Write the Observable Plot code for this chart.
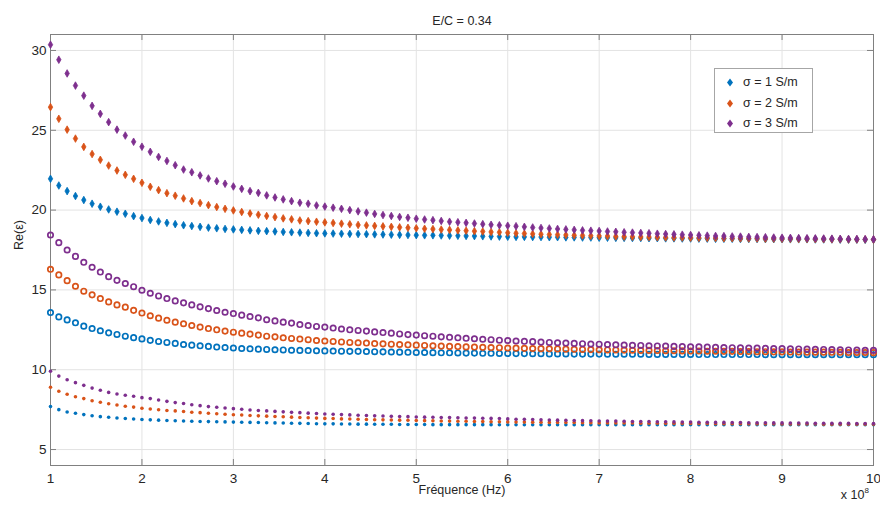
<!DOCTYPE html>
<html>
<head>
<meta charset="utf-8">
<script src="https://cdn.jsdelivr.net/npm/d3@7"></script>
<script src="https://cdn.jsdelivr.net/npm/@observablehq/plot@0.6"></script>
<style>
  body { margin: 0; background: white; }
  #wrap { position: relative; width: 880px; height: 508px; font-family: "Liberation Sans", Arial, sans-serif; }
  #legend { position: absolute; left: 714px; top: 68px; width: 97px; height: 63px; border: 1px solid #a6a6a6; background: white; }
  .row { position: absolute; left: 0; height: 16px; font-size: 12.5px; color: #262626; line-height: 16px; }
  .row svg { position: absolute; left: 11px; top: 4px; }
  .row span { position: absolute; left: 28px; white-space: nowrap; }
</style>
</head>
<body>
<div id="wrap"></div>
<script>
// Frequency grid (units of 10^8 Hz)
const freq = [
1.000,1.091,1.182,1.273,1.364,1.455,1.545,1.636,1.727,1.818,1.909,
2.000,2.091,2.182,2.273,2.364,2.455,2.545,2.636,2.727,2.818,2.909,
3.000,3.091,3.182,3.273,3.364,3.455,3.545,3.636,3.727,3.818,3.909,
4.000,4.091,4.182,4.273,4.364,4.455,4.545,4.636,4.727,4.818,4.909,
5.000,5.091,5.182,5.273,5.364,5.455,5.545,5.636,5.727,5.818,5.909,
6.000,6.091,6.182,6.273,6.364,6.455,6.545,6.636,6.727,6.818,6.909,
7.000,7.091,7.182,7.273,7.364,7.455,7.545,7.636,7.727,7.818,7.909,
8.000,8.091,8.182,8.273,8.364,8.455,8.545,8.636,8.727,8.818,8.909,
9.000,9.091,9.182,9.273,9.364,9.455,9.545,9.636,9.727,9.818,9.909,
10.000];

const sigmaLabels = ["σ = 1 S/m", "σ = 2 S/m", "σ = 3 S/m"];
const sigmaColors = ["#0072BD", "#D95319", "#7E2F8E"];
const xTicks = [1,2,3,4,5,6,7,8,9,10];
const yTicks = [5,10,15,20,25,30];

// Upper group (filled diamonds)
const topS1 = [21.96,21.54,21.19,20.88,20.63,20.40,20.21,20.04,19.90,19.77,
19.62,19.50,19.38,19.29,19.20,19.12,19.05,19.00,18.95,18.90,
18.86,18.82,18.79,18.76,18.73,18.70,18.68,18.66,18.63,18.61,
18.59,18.57,18.55,18.54,18.53,18.52,18.51,18.50,18.49,18.48,
18.47,18.46,18.45,18.44,18.43,18.42,18.42,18.41,18.40,18.39,
18.38,18.37,18.36,18.35,18.34,18.33,18.32,18.32,18.31,18.31,
18.30,18.30,18.29,18.29,18.28,18.28,18.27,18.27,18.26,18.26,
18.25,18.25,18.24,18.24,18.23,18.23,18.22,18.22,18.21,18.21,
18.20,18.20,18.20,18.19,18.19,18.19,18.18,18.18,18.18,18.17,
18.17,18.17,18.16,18.16,18.16,18.15,18.15,18.15,18.14,18.14];
const topS2 = [26.45,25.72,25.04,24.48,23.96,23.51,23.15,22.79,22.48,22.21,
21.96,21.71,21.46,21.25,21.06,20.90,20.73,20.56,20.44,20.31,
20.19,20.08,19.98,19.88,19.79,19.71,19.63,19.56,19.48,19.42,
19.35,19.31,19.27,19.23,19.19,19.15,19.11,19.07,19.04,19.01,
18.98,18.95,18.92,18.89,18.86,18.83,18.81,18.78,18.76,18.73,
18.71,18.68,18.66,18.63,18.61,18.58,18.55,18.53,18.51,18.49,
18.47,18.46,18.44,18.42,18.41,18.39,18.38,18.37,18.35,18.34,
18.33,18.32,18.31,18.30,18.29,18.28,18.28,18.27,18.26,18.26,
18.25,18.24,18.24,18.23,18.22,18.22,18.21,18.21,18.20,18.20,
18.19,18.19,18.18,18.18,18.17,18.17,18.16,18.16,18.16,18.15];
const topS3 = [30.36,29.42,28.56,27.80,27.17,26.53,26.03,25.51,25.04,24.67,
24.28,23.97,23.65,23.33,23.08,22.81,22.54,22.37,22.17,21.98,
21.81,21.65,21.48,21.33,21.19,21.08,20.92,20.79,20.67,20.56,
20.46,20.40,20.29,20.22,20.15,20.08,20.00,19.92,19.84,19.76,
19.69,19.63,19.57,19.52,19.46,19.41,19.37,19.32,19.27,19.24,
19.20,19.16,19.12,19.08,19.05,19.02,18.99,18.95,18.91,18.88,
18.85,18.82,18.79,18.76,18.73,18.71,18.69,18.66,18.64,18.61,
18.59,18.57,18.55,18.52,18.50,18.48,18.46,18.44,18.42,18.40,
18.38,18.37,18.35,18.34,18.32,18.31,18.30,18.28,18.27,18.26,
18.25,18.24,18.23,18.22,18.21,18.20,18.19,18.19,18.18,18.17];

// Middle group (open circles)
const midS1 = [13.58,13.31,13.12,12.94,12.73,12.58,12.44,12.31,12.21,12.10,
12.01,11.93,11.84,11.77,11.71,11.65,11.58,11.54,11.50,11.46,
11.42,11.39,11.36,11.33,11.31,11.29,11.27,11.25,11.24,11.22,
11.21,11.20,11.19,11.18,11.17,11.16,11.15,11.15,11.14,11.13,
11.12,11.11,11.10,11.09,11.08,11.08,11.07,11.06,11.06,11.05,
11.04,11.04,11.03,11.03,11.02,11.02,11.01,11.01,11.00,11.00,
10.99,10.99,10.99,10.98,10.98,10.98,10.98,10.97,10.97,10.97,
10.97,10.97,10.96,10.96,10.96,10.96,10.96,10.96,10.95,10.95,
10.95,10.95,10.95,10.95,10.95,10.95,10.94,10.94,10.94,10.94,
10.94,10.94,10.94,10.94,10.94,10.94,10.94,10.94,10.94,10.94];
const midS2 = [16.29,15.94,15.58,15.23,14.92,14.69,14.46,14.25,14.06,13.92,
13.72,13.55,13.38,13.23,13.10,12.98,12.88,12.77,12.67,12.58,
12.50,12.42,12.35,12.29,12.23,12.17,12.10,12.06,12.00,11.96,
11.92,11.88,11.83,11.80,11.77,11.74,11.71,11.69,11.67,11.64,
11.62,11.60,11.58,11.56,11.54,11.52,11.50,11.48,11.46,11.45,
11.43,11.42,11.40,11.39,11.38,11.36,11.35,11.34,11.33,11.32,
11.31,11.30,11.29,11.28,11.27,11.26,11.25,11.24,11.24,11.23,
11.22,11.21,11.21,11.20,11.19,11.19,11.18,11.17,11.17,11.16,
11.16,11.15,11.15,11.14,11.14,11.13,11.13,11.12,11.12,11.11,
11.11,11.10,11.10,11.10,11.09,11.09,11.08,11.08,11.08,11.07];
const midS3 = [18.44,17.96,17.50,17.10,16.73,16.42,16.12,15.83,15.60,15.40,
15.20,14.98,14.79,14.62,14.46,14.31,14.19,14.06,13.94,13.83,
13.71,13.60,13.52,13.42,13.33,13.25,13.13,13.06,12.98,12.92,
12.83,12.77,12.71,12.67,12.61,12.55,12.50,12.46,12.42,12.37,
12.33,12.29,12.24,12.20,12.17,12.13,12.10,12.06,12.03,12.00,
11.97,11.94,11.91,11.88,11.85,11.83,11.80,11.78,11.76,11.73,
11.71,11.69,11.67,11.65,11.63,11.61,11.60,11.58,11.56,11.55,
11.53,11.52,11.50,11.49,11.48,11.46,11.45,11.44,11.43,11.42,
11.40,11.39,11.38,11.37,11.36,11.35,11.34,11.33,11.32,11.31,
11.30,11.29,11.28,11.27,11.26,11.25,11.24,11.23,11.22,11.21];

// Lower group (small dots)
const lowS1 = [7.69,7.50,7.35,7.27,7.19,7.12,7.06,7.02,6.98,6.94,
6.91,6.88,6.86,6.84,6.82,6.80,6.79,6.77,6.76,6.75,
6.74,6.73,6.72,6.71,6.70,6.69,6.68,6.67,6.66,6.65,
6.64,6.63,6.62,6.61,6.61,6.60,6.60,6.59,6.59,6.58,
6.58,6.58,6.57,6.57,6.57,6.57,6.56,6.56,6.56,6.56,
6.56,6.56,6.56,6.56,6.55,6.55,6.55,6.55,6.55,6.55,
6.55,6.55,6.55,6.55,6.55,6.55,6.55,6.55,6.55,6.55,
6.55,6.55,6.55,6.55,6.55,6.55,6.55,6.55,6.55,6.55,
6.55,6.55,6.55,6.55,6.55,6.55,6.55,6.55,6.55,6.55,
6.55,6.55,6.55,6.55,6.55,6.55,6.55,6.55,6.55,6.55];
const lowS2 = [8.90,8.65,8.46,8.31,8.19,8.06,7.96,7.87,7.79,7.71,
7.66,7.59,7.54,7.49,7.45,7.42,7.38,7.34,7.31,7.27,
7.24,7.21,7.18,7.16,7.13,7.11,7.09,7.07,7.05,7.03,
7.01,6.99,6.97,6.95,6.94,6.92,6.91,6.90,6.88,6.87,
6.86,6.85,6.84,6.83,6.82,6.81,6.80,6.79,6.78,6.77,
6.77,6.76,6.75,6.74,6.74,6.73,6.72,6.72,6.71,6.71,
6.70,6.70,6.69,6.69,6.68,6.68,6.67,6.67,6.66,6.66,
6.66,6.65,6.65,6.65,6.64,6.64,6.64,6.63,6.63,6.63,
6.62,6.62,6.62,6.62,6.61,6.61,6.61,6.61,6.60,6.60,
6.60,6.60,6.60,6.59,6.59,6.59,6.59,6.59,6.59,6.59];
const lowS3 = [9.90,9.60,9.37,9.19,9.02,8.85,8.71,8.58,8.48,8.40,
8.34,8.25,8.19,8.10,8.02,7.94,7.88,7.81,7.75,7.69,
7.65,7.60,7.56,7.52,7.48,7.45,7.42,7.39,7.36,7.33,
7.31,7.28,7.26,7.23,7.21,7.19,7.17,7.15,7.13,7.11,
7.10,7.08,7.07,7.06,7.04,7.03,7.02,7.01,7.00,6.99,
6.98,6.97,6.96,6.95,6.94,6.92,6.90,6.89,6.88,6.86,
6.85,6.84,6.83,6.82,6.81,6.80,6.79,6.78,6.78,6.77,
6.76,6.75,6.75,6.74,6.74,6.73,6.72,6.72,6.71,6.71,
6.70,6.70,6.69,6.69,6.68,6.68,6.68,6.67,6.67,6.66,
6.66,6.66,6.65,6.65,6.64,6.64,6.64,6.63,6.63,6.63];

function rows(seriesList) {
  const out = [];
  seriesList.forEach((vals, s) => {
    vals.forEach((v, i) => out.push({f: freq[i], eps: v, sigma: sigmaLabels[s]}));
  });
  return out;
}
const topData = rows([topS1, topS2, topS3]);
const midData = rows([midS1, midS2, midS3]);
const lowData = rows([lowS1, lowS2, lowS3]);

const gridColor = "#e3e3e3";
const axisColor = "#808080";

const chart = Plot.plot({
  width: 880,
  height: 508,
  marginLeft: 50,
  marginRight: 7,
  marginTop: 34,
  marginBottom: 43,
  style: {fontFamily: "Liberation Sans, Arial, sans-serif", fontSize: "13.5px", color: "#262626", background: "white"},
  x: {domain: [1, 10], ticks: xTicks, tickSize: 0, tickPadding: 8, tickFormat: d => String(d), label: null},
  y: {domain: [4, 31], ticks: yTicks, tickSize: 0, tickPadding: 4, tickFormat: d => String(d), label: null},
  color: {domain: sigmaLabels, range: sigmaColors},
  marks: [
    Plot.ruleX(xTicks, {x: d => d, stroke: gridColor, strokeWidth: 1}),
    Plot.ruleY(yTicks, {y: d => d, stroke: gridColor, strokeWidth: 1}),
    Plot.frame({stroke: axisColor}),
    Plot.tickX(xTicks, {x: d => d, stroke: axisColor, insetTop: 425}),
    Plot.tickX(xTicks, {x: d => d, stroke: axisColor, insetBottom: 425}),
    Plot.tickY(yTicks, {y: d => d, stroke: axisColor, insetRight: 817}),
    Plot.tickY(yTicks, {y: d => d, stroke: axisColor, insetLeft: 817}),
    Plot.dot(topData, {x: "f", y: "eps", fill: "sigma", stroke: "sigma", strokeWidth: 0.8, symbol: "diamond", r: 2.3}),
    Plot.dot(midData, {x: "f", y: "eps", fill: "none", stroke: "sigma", strokeWidth: 1.7, symbol: "circle", r: 2.7}),
    Plot.dot(lowData, {x: "f", y: "eps", fill: "sigma", stroke: "none", symbol: "circle", r: 1.8}),
    Plot.text(["E/C = 0.34"], {text: d => d, frameAnchor: "top", dy: -18, fontSize: 12.5, fill: "#262626"}),
    Plot.text(["Fréquence (Hz)"], {text: d => d, frameAnchor: "bottom", dy: 28, fontSize: 12.5, fill: "#262626"}),
    Plot.text(["Re(ε)"], {text: d => d, frameAnchor: "left", rotate: -90, dx: -32, fontSize: 12.5, fill: "#262626"}),
    Plot.text(["x 10"], {text: d => d, frameAnchor: "bottom-right", textAnchor: "end", dx: -9, dy: 33, fontSize: 12.5, fill: "#262626"}),
    Plot.text(["8"], {text: d => d, frameAnchor: "bottom-right", textAnchor: "start", dx: -9, dy: 27.5, fontSize: 8, fill: "#262626"})
  ]
});

const wrap = document.getElementById("wrap");
wrap.appendChild(chart);

// Legend
const legend = document.createElement("div");
legend.id = "legend";
sigmaLabels.forEach((lab, i) => {
  const row = document.createElement("div");
  row.className = "row";
  row.style.top = (5 + i * 20.5) + "px";
  row.innerHTML = `<svg width="8" height="9"><polygon points="4,0.5 7,4.5 4,8.5 1,4.5" fill="${sigmaColors[i]}"/></svg><span>${lab}</span>`;
  legend.appendChild(row);
});
wrap.appendChild(legend);
</script>
</body>
</html>
